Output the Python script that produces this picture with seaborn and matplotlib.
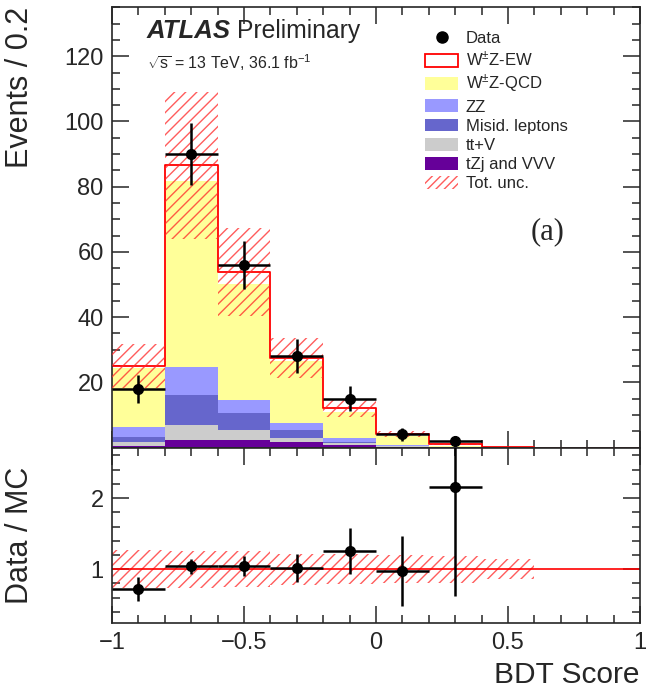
import numpy as np
import seaborn as sns
import matplotlib.pyplot as plt
from matplotlib.patches import Patch
from matplotlib.lines import Line2D
from matplotlib.ticker import MultipleLocator, FixedLocator, FuncFormatter

# binning of the BDT score
bin_edges = [-1.0, -0.8, -0.6, -0.4, -0.2, 0.0, 0.2, 0.4, 0.6, 0.8, 1.0]
bin_centers = [-0.9, -0.7, -0.5, -0.3, -0.1, 0.1, 0.3, 0.5, 0.7, 0.9]

# MC stack, bottom to top (events / 0.2)
tzj_vvv = [0.5, 2.3, 2.2, 1.6, 0.8, 0.20, 0.00, 0.00, 0.0, 0.0]
ttv = [1.2, 4.6, 3.2, 1.4, 0.5, 0.15, 0.00, 0.00, 0.0, 0.0]
misid = [1.4, 9.2, 5.1, 2.5, 0.5, 0.15, 0.00, 0.00, 0.0, 0.0]
zz = [3.3, 8.6, 4.0, 1.9, 1.0, 0.30, 0.05, 0.00, 0.0, 0.0]
wz_qcd = [18.0, 57.1, 35.7, 19.1, 8.2, 2.70, 0.35, 0.02, 0.0, 0.0]
wz_ew = [0.6, 4.7, 3.6, 1.0, 1.0, 0.60, 0.53, 0.05, 0.0, 0.0]

# relative total uncertainty (first 8 bins)
rel_unc = [0.27, 0.26, 0.25, 0.22, 0.21, 0.20, 0.19, 0.14]

# observed data
data_centers = [-0.9, -0.7, -0.5, -0.3, -0.1, 0.1, 0.3]
data_counts = [18, 90, 56, 28, 15, 4, 2]

labels = ['tZj and VVV', 'tt+V', 'Misid. leptons', 'ZZ', r'W$^{\pm}$Z-QCD', r'W$^{\pm}$Z-EW']
colors = ['#660099', '#cccccc', '#6666cc', '#9999ff', '#ffff99', 'white']

sns.set_style('ticks')
plt.rcParams['font.family'] = ['Liberation Sans', 'DejaVu Sans']
plt.rcParams['mathtext.fontset'] = 'custom'
plt.rcParams['mathtext.rm'] = 'Liberation Sans'
plt.rcParams['mathtext.it'] = 'Liberation Sans:italic'
plt.rcParams['mathtext.bf'] = 'Liberation Sans:bold'
plt.rcParams['hatch.linewidth'] = 1.0
hatch_col = (1.0, 0.15, 0.15, 0.75)

fig = plt.figure(figsize=(6.46, 6.92), dpi=100)
ax = fig.add_axes([0.1734, 0.3533, 0.8173, 0.6361])
rax = fig.add_axes([0.1734, 0.0993, 0.8173, 0.2540], sharex=ax)

x = np.array(bin_centers)
comps = [tzj_vvv, ttv, misid, zz, wz_qcd, wz_ew]
cum = np.cumsum(np.array(comps), axis=0)
total = cum[-1]

# draw cumulative stacks from the top down
for i in range(len(comps) - 1, -1, -1):
    sns.histplot(x=x, weights=cum[i], bins=bin_edges, ax=ax, color=colors[i],
                 alpha=1, element='bars', linewidth=0, zorder=1)
sns.histplot(x=x, weights=total, bins=bin_edges, ax=ax, element='step',
             fill=False, color='red', linewidth=1.3, zorder=2)

# total uncertainty band
n_unc = len(rel_unc)
unc = np.array(rel_unc)
tot_u = total[:n_unc]
ax.bar(x[:n_unc], 2 * unc * tot_u, bottom=tot_u * (1 - unc), width=0.2,
       facecolor='none', edgecolor=hatch_col, linewidth=0, hatch='///', zorder=3)

dc = np.array(data_counts, dtype=float)
ax.errorbar(data_centers, dc, yerr=np.sqrt(dc), xerr=0.1, fmt='o', color='black',
            ms=7, lw=1.8, capsize=0, zorder=5)

# ratio panel
rax.bar(x[:n_unc], 2 * unc, bottom=1 - unc, width=0.2, facecolor='none',
        edgecolor=hatch_col, linewidth=0, hatch='///', zorder=1)
rax.axhline(1.0, color='red', lw=1.2, zorder=2)
mc_d = total[:len(data_counts)]
rax.errorbar(data_centers, dc / mc_d, yerr=np.sqrt(dc) / mc_d, xerr=0.1, fmt='o',
             color='black', ms=7, lw=1.8, capsize=0, zorder=5)

# axes styling
for a in (ax, rax):
    a.set_xlim(-1, 1)
    a.xaxis.set_major_locator(MultipleLocator(0.5))
    a.xaxis.set_minor_locator(MultipleLocator(0.1))
    a.tick_params(which='both', direction='in', top=True, right=True, width=1.1,
                  labelsize=17, pad=6)
    a.tick_params(which='major', length=12)
    a.tick_params(which='minor', length=6)
    for s in a.spines.values():
        s.set_linewidth(1.2)

rax.xaxis.set_major_formatter(FuncFormatter(lambda v, p: f'{v:g}'.replace('-', '\u2212')))

ax.set_ylim(0, 135)
ax.yaxis.set_major_locator(FixedLocator([20, 40, 60, 80, 100, 120]))
ax.yaxis.set_minor_locator(MultipleLocator(5))
ax.tick_params(labelbottom=False)
ax.set_xlabel('')
ax.set_ylabel('Events / 0.2', fontsize=22, loc='top')
ax.yaxis.set_label_coords(-0.146, 1.0)

rax.set_ylim(0.24, 2.71)
rax.yaxis.set_major_locator(FixedLocator([1, 2]))
rax.yaxis.set_minor_locator(MultipleLocator(0.2))
rax.set_ylabel('Data / MC', fontsize=22)
rax.yaxis.set_label_coords(-0.146, 0.5)
rax.set_xlabel('BDT Score', fontsize=21.5, loc='right')
rax.xaxis.set_label_coords(1.0, -0.215)

# labels
ax.text(0.066, 0.93, 'ATLAS', transform=ax.transAxes, fontsize=18.5,
        fontweight='bold', fontstyle='italic', va='baseline')
ax.text(0.236, 0.93, 'Preliminary', transform=ax.transAxes, fontsize=17.8,
        va='baseline')
ax.text(0.066, 0.861, r'$\sqrt{\mathrm{s}}$ = 13 TeV, 36.1 fb$^{-1}$',
        transform=ax.transAxes, fontsize=11.5, va='baseline')
ax.text(0.824, 0.49, '(a)', transform=ax.transAxes, fontsize=22,
        family='Liberation Serif', ha='center', va='center')

handles = [Line2D([], [], marker='o', color='black', ls='none', ms=8),
           Patch(facecolor='white', edgecolor='red', lw=1.3)]
for c in colors[4::-1]:
    handles.append(Patch(facecolor=c, edgecolor='none'))
handles.append(Patch(facecolor='none', edgecolor=hatch_col, hatch='////', lw=0))
leg_labels = ['Data', labels[5], labels[4], labels[3], labels[2], labels[1], labels[0], 'Tot. unc.']
ax.legend(handles, leg_labels, loc='upper left', bbox_to_anchor=(0.593, 0.947),
          frameon=False, fontsize=12, handlelength=2.0, handleheight=0.8,
          handletextpad=0.45, labelspacing=0.24, borderpad=0, borderaxespad=0)

fig.savefig('out.png', dpi=100)
